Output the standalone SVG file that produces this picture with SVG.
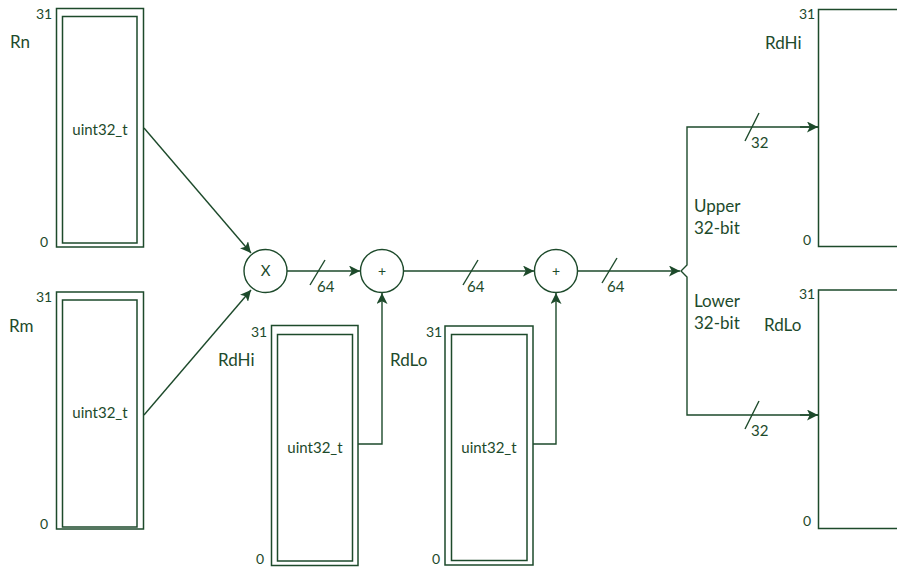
<svg xmlns="http://www.w3.org/2000/svg" width="897" height="568" viewBox="0 0 897 568">
<style>
text{font-family:Lato,"Open Sans","Liberation Sans",sans-serif;fill:#1d4a2b}
.big{font-size:17px}
.mid{font-size:15px}
.sm{font-size:14px}
.box{fill:none;stroke:#1d4a2b;stroke-width:1.5}
.ln{fill:none;stroke:#1d4a2b;stroke-width:1.4}
.c{fill:#fff;stroke:#1d4a2b;stroke-width:1.4}
</style>
<defs>
<marker id="ah" viewBox="0 0 10 10" refX="10" refY="5" markerWidth="11" markerHeight="11" markerUnits="userSpaceOnUse" orient="auto">
<path d="M0,0 L10,5 L0,10 L2.5,5 Z" fill="#1d4a2b"/>
</marker>
</defs>
<rect width="897" height="568" fill="#fff"/>
<g id="connectors">
<path class="ln" d="M144,128 L251,253" marker-end="url(#ah)"/>
<path class="ln" d="M144,415 L251,290" marker-end="url(#ah)"/>
<path class="ln" d="M287,271 H360" marker-end="url(#ah)"/>
<path class="ln" d="M310,285 L325,260"/>
<text class="mid" x="317" y="292">64</text>
<path class="ln" d="M404,271 H534" marker-end="url(#ah)"/>
<path class="ln" d="M463,285 L478,260"/>
<text class="mid" x="467" y="292">64</text>
<path class="ln" d="M578,271 H680" marker-end="url(#ah)"/>
<path class="ln" d="M602,283 L617,258"/>
<text class="mid" x="607" y="292">64</text>
<path class="ln" d="M358,444 H382 V293" marker-end="url(#ah)"/>
<path class="ln" d="M533,444 H556 V293" marker-end="url(#ah)"/>
<path class="ln" d="M818,127 H687 V265 L681,271 L687,277 V415 H818"/>
<path class="ln" d="M800,127 H818" marker-end="url(#ah)"/>
<path class="ln" d="M800,415 H818" marker-end="url(#ah)"/>
<path class="ln" d="M745,141 L759,113"/>
<text class="mid" x="751" y="148">32</text>
<path class="ln" d="M745,429 L759,401"/>
<text class="mid" x="751" y="436">32</text>
</g>
<g id="Rn">
<rect class="box" x="56.5" y="8.5" width="87" height="238.5"/>
<rect class="box" x="62.5" y="16.5" width="74.5" height="226.5"/>
<text class="big" x="10" y="48">Rn</text>
<text class="sm" x="36" y="19">31</text>
<text class="sm" x="40" y="247">0</text>
<text class="mid" x="100" y="135" text-anchor="middle">uint32_t</text>
</g>
<g id="Rm">
<rect class="box" x="56.5" y="292" width="87" height="237"/>
<rect class="box" x="62.5" y="300" width="74.5" height="227"/>
<text class="big" x="9" y="332">Rm</text>
<text class="sm" x="36" y="302">31</text>
<text class="sm" x="40" y="529">0</text>
<text class="mid" x="100" y="418" text-anchor="middle">uint32_t</text>
</g>
<g id="mul">
<circle class="c" cx="265.5" cy="271" r="21.5"/>
<text class="mid" x="265.5" y="276" text-anchor="middle">X</text>
</g>
<g id="add1">
<circle class="c" cx="382" cy="271" r="21.5"/>
<text class="sm" x="382" y="276" text-anchor="middle">+</text>
</g>
<g id="add2">
<circle class="c" cx="556" cy="271" r="21.5"/>
<text class="sm" x="556" y="276" text-anchor="middle">+</text>
</g>
<g id="RdHiIn">
<rect class="box" x="271.5" y="325.5" width="86.5" height="240"/>
<rect class="box" x="277.5" y="334.5" width="75" height="226.5"/>
<text class="big" x="218" y="366">RdHi</text>
<text class="sm" x="251" y="337">31</text>
<text class="sm" x="256" y="564">0</text>
<text class="mid" x="315" y="453" text-anchor="middle">uint32_t</text>
</g>
<g id="RdLoIn">
<rect class="box" x="445" y="326" width="88" height="239"/>
<rect class="box" x="451.5" y="334.5" width="75.5" height="226"/>
<text class="big" x="390" y="366">RdLo</text>
<text class="sm" x="426" y="337">31</text>
<text class="sm" x="432" y="564">0</text>
<text class="mid" x="489" y="453" text-anchor="middle">uint32_t</text>
</g>
<g id="split">
<text class="big" x="694" y="212">Upper</text>
<text class="big" x="694" y="234">32-bit</text>
<text class="big" x="694" y="307">Lower</text>
<text class="big" x="694" y="329">32-bit</text>
</g>
<g id="RdHiOut">
<path class="box" d="M897,9.5 H818.5 V246.5 H897"/>
<text class="big" x="765" y="49">RdHi</text>
<text class="sm" x="799" y="19">31</text>
<text class="sm" x="803" y="245">0</text>
</g>
<g id="RdLoOut">
<path class="box" d="M897,290 H818.5 V528.5 H897"/>
<text class="big" x="764" y="331">RdLo</text>
<text class="sm" x="799" y="299">31</text>
<text class="sm" x="803" y="526">0</text>
</g>
</svg>
